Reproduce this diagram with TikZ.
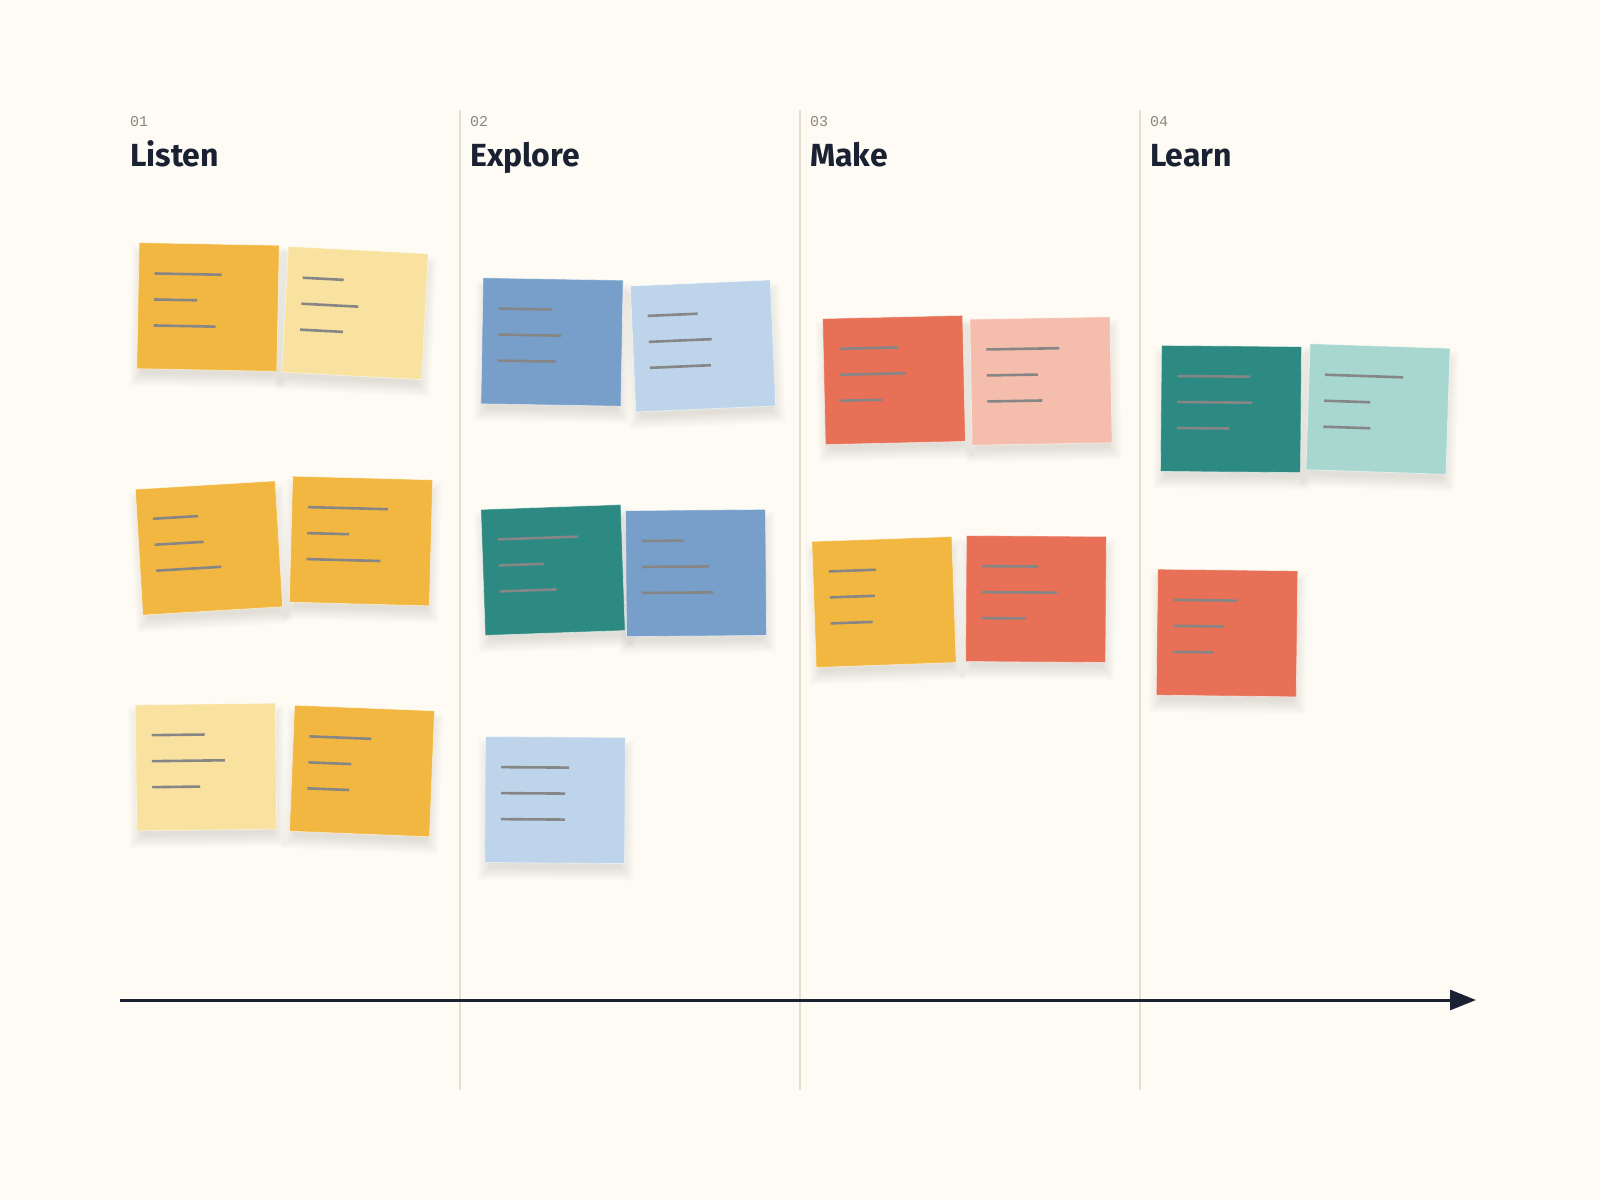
\documentclass[tikz,border=0pt]{standalone}
\usepackage{xcolor}
\usepackage{fontspec}
\usepackage{tikz}
\usetikzlibrary{arrows.meta}
\newfontfamily\headfont{Fira Sans}
\newfontfamily\stepfont{Liberation Mono}
\definecolor{paper}{HTML}{FEFBF4}
\definecolor{ink}{HTML}{1A2132}
\definecolor{rule}{HTML}{E6DDCC}
\definecolor{numgray}{HTML}{8C877D}
\definecolor{linegray}{HTML}{868686}
\definecolor{yellowA}{HTML}{F2B740}
\definecolor{yellowB}{HTML}{F9E29F}
\definecolor{blueA}{HTML}{789FC9}
\definecolor{blueB}{HTML}{BDD4EA}
\definecolor{tealA}{HTML}{2D8A82}
\definecolor{tealB}{HTML}{A8D7D0}
\definecolor{redA}{HTML}{E87056}
\definecolor{redB}{HTML}{F5BEAC}
\tikzset{
  note/.style={minimum width=140pt, minimum height=126pt, inner sep=0pt, outer sep=0pt, draw=white, draw opacity=0.5, line width=0.8pt},
  noteshadow/.style={fill=black, opacity=0.014},
  noteline/.style={draw=linegray, line width=2.6pt},
  colline/.style={draw=rule, line width=1.6pt},
  stepnum/.style={anchor=base west, inner sep=0pt, text=numgray, font=\stepfont\fontsize{15}{15}\selectfont},
  stephead/.style={anchor=base west, inner sep=0pt, text=ink, font=\headfont\bfseries\fontsize{32}{32}\selectfont},
  timeline/.style={draw=ink, line width=3pt, -{Triangle[length=26pt,width=20pt]}}
}
\def\notelist{
  208/307/-1.1/yellowA/67/43/62, 355/313/-3.0/yellowB/41/57/43,
  209/548/3.4/yellowA/45/49/65, 361/541/-1.5/yellowA/80/42/74,
  206/767/0.7/yellowB/53/73/48, 362/771/-2.3/yellowA/62/43/42,
  552/342/-1.0/blueA/53/63/58, 703/346/2.5/blueB/50/63/61,
  553/570/2.0/tealA/80/45/57, 696/573/0.5/blueA/42/67/71,
  555/800/-0.4/blueB/68/64/64,
  894/380/1.3/redA/59/66/42, 1041/381/1.0/redB/73/51/55,
  884/602/2.0/yellowA/47/45/42, 1036/599/-0.4/redA/56/75/44,
  1231/409/-0.5/tealA/73/75/52, 1378/409/-1.9/tealB/78/46/47,
  1227/633/-0.7/redA/64/51/41}
\begin{document}
\begin{tikzpicture}[x=1pt,y=-1pt]
\fill[paper] (0,0) rectangle (1600,1200);
\foreach \cx in {460,800,1140}\draw[colline] (\cx,110) -- (\cx,1090);
\foreach \tx/\stepno/\stepname [count=\k] in {130/01/Listen,470/02/Explore,810/03/Make,1150/04/Learn}{
  \node[stepnum] (num\k) at (\tx,126) {\stepno};
  \node[stephead] (head\k) at (\tx,166) {\stepname};
}
\foreach \nx/\ny/\rot/\col/\la/\lb/\lc in \notelist{
  \begin{scope}[shift={(\nx,\ny)}, rotate=\rot]
    \foreach \s in {0,...,6}\fill[noteshadow] (-65-2*\s,-48-2*\s) rectangle (67+2*\s,68+2*\s);
  \end{scope}
}
\foreach \nx/\ny/\rot/\col/\la/\lb/\lc [count=\i] in \notelist{
  \node[note, fill=\col, rotate=\rot] (n\i) at (\nx,\ny) {};
  \begin{scope}[shift={(n\i.center)}, rotate=\rot]
    \foreach \ly/\ll in {-32.5/\la,-6.5/\lb,19.5/\lc}\draw[noteline] (-54,\ly) -- ++(\ll,0);
  \end{scope}
}
\coordinate (tstart) at (120,1000);
\coordinate (tend) at (1476,1000);
\draw[timeline] (tstart) -- (tend);
\end{tikzpicture}
\end{document}
